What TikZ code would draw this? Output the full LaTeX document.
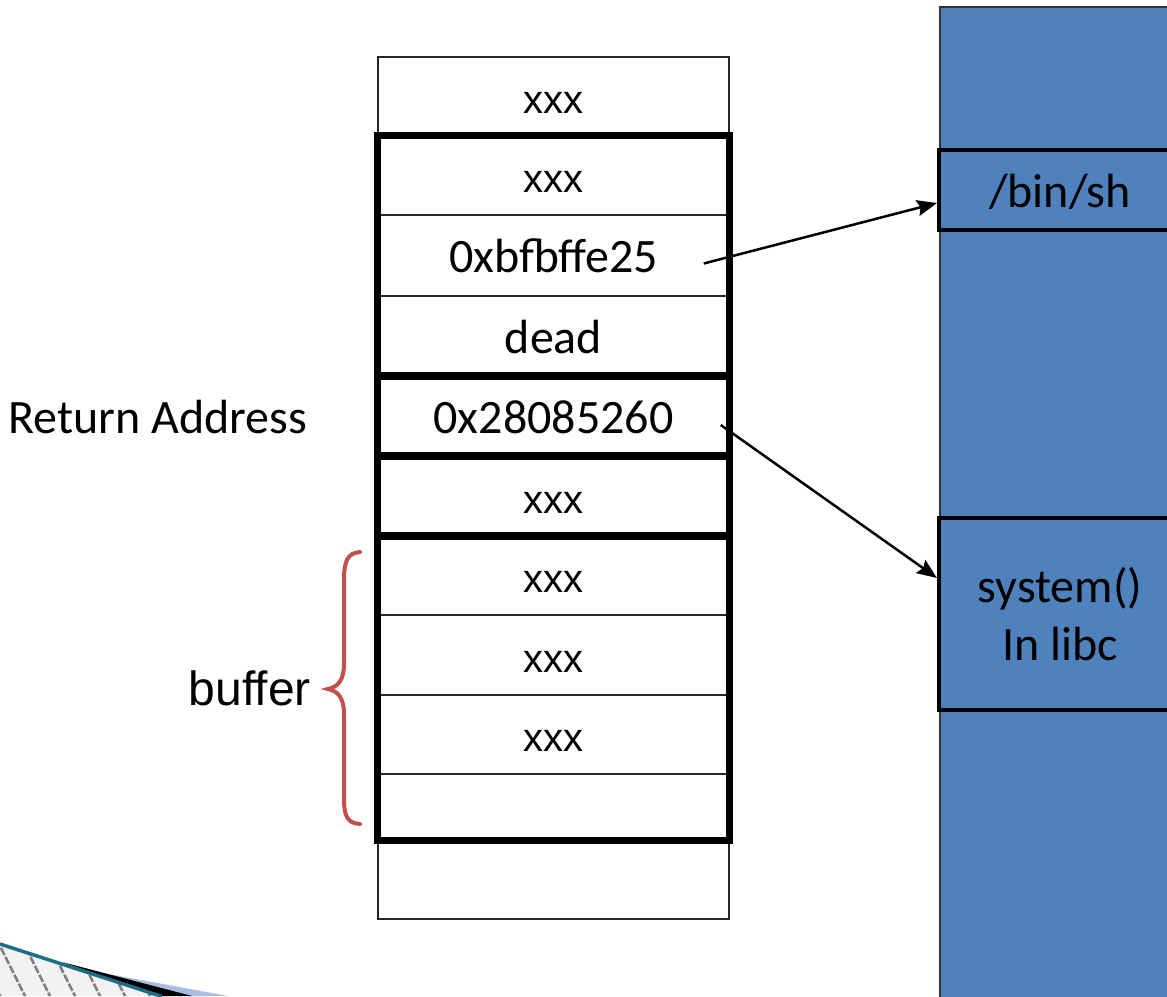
\documentclass[tikz,border=0pt]{standalone}
\usepackage{fontspec}
\setmainfont{Carlito}
\newfontfamily\arialf[Ligatures=NoCommon]{Liberation Sans}
\usetikzlibrary{arrows.meta,calc}
\definecolor{memblue}{HTML}{4F81BD}
\definecolor{bracered}{HTML}{C0504D}
\definecolor{teal2}{HTML}{1B6E85}
\definecolor{lightb}{HTML}{A9BCE3}
\begin{document}
\begin{tikzpicture}[x=1pt,y=-1pt,
  cell/.style={draw=black!85, line width=1.5pt, fill=white, minimum width=351pt,
    inner sep=0pt, text height=42pt, text depth=8pt, font=\fontsize{48}{52}\selectfont},
  xcell/.style={cell, font=\arialf\fontsize{40}{46}\selectfont},
  thickbox/.style={draw=black, line width=7pt},
  membox/.style={draw=black, line width=4pt, fill=memblue, minimum width=242pt,
    inner sep=0pt, font=\fontsize{48}{58}\selectfont, align=center},
  lbl/.style={inner sep=0pt, font=\fontsize{48}{52}\selectfont},
  ptr/.style={draw=black, line width=2.5pt, -{Stealth[length=20pt,width=16pt,inset=3pt]}}
]
\useasboundingbox (0,0) rectangle (1167,996);
\begin{scope}
\clip (0,0) rectangle (1167,996);
\fill[white] (0,0) rectangle (1167,996);

% memory column
\node[draw=black!80, line width=1.5pt, fill=memblue, minimum width=260pt, minimum height=1010pt,
  inner sep=0pt, anchor=north west] (mem) at (939,6) {};
\node[membox, minimum height=80pt, text height=42pt, text depth=8pt] (binsh) at (1060,190) {/bin/sh};
\node[membox, minimum height=192pt] (sys) at (1060,614) {system()\\In libc};

% stack cells
\node[xcell, minimum height=79pt] (c1) at (553.5,96.5) {xxx};
\node[xcell, minimum height=79pt] (c2) at (553.5,175.5) {xxx};
\node[cell, minimum height=81pt] (c3) at (553.5,255.5) {0xbfbffe25};
\node[cell, minimum height=80pt] (c4) at (553.5,336) {dead};
\node[cell, minimum height=80pt] (c5) at (553.5,416) {0x28085260};
\node[xcell, minimum height=80pt] (c6) at (553.5,496) {xxx};
\node[xcell, minimum height=79pt] (c7) at (553.5,575.5) {xxx};
\node[xcell, minimum height=80pt] (c8) at (553.5,655) {xxx};
\node[xcell, minimum height=79pt] (c9) at (553.5,734.5) {xxx};
\node[cell, minimum height=66pt] (c10) at (553.5,807) {};
\node[cell, minimum height=79pt] (c11) at (553.5,879.5) {};

% thick group frames
\draw[thickbox] (c2.north west) rectangle (c4.south east);
\draw[thickbox] (c5.north west) rectangle (c5.south east);
\draw[thickbox] (c6.north west) rectangle (c6.south east);
\draw[thickbox] (c7.north west) rectangle (c10.south east);

% labels
\node[lbl, anchor=base east] (ret) at ($(c5.base west)+(-70,0)$) {Return Address};
\node[lbl, font=\arialf\fontsize{48}{52}\selectfont, anchor=base east] (buf) at (311,705) {buffer};

% brace
\draw[bracered, line width=4pt, line cap=round]
  (360,552) .. controls (347,553) and (344,562) .. (344,580) -- (344,664)
  .. controls (344,680) and (338,687) .. (328,689)
  .. controls (338,691) and (344,698) .. (344,714) -- (344,798)
  .. controls (344,816) and (347,823) .. (360,824);

% pointers
\coordinate (p1) at ($(c3.east)+(-26,8)$);
\coordinate (p2) at ($(c5.east)+(-9,9)$);
\draw[ptr] (p1) -- ($(binsh.west)+(0,13)$);
\draw[ptr] (p2) -- ($(sys.west)+(0,-36)$);

% corner decoration
\begin{scope}
\clip (0,945) -- (162,996) -- (0,996) -- cycle;
\fill[black!5] (0,930) rectangle (170,996);
\foreach \i in {-2,...,7}
  \draw[black!50, line width=2.5pt, dash pattern=on 8pt off 2pt] (\i*25-8,930) -- ++(35,70);
\end{scope}
\fill[lightb] (92,971) -- (228,996) -- (180,996) -- cycle;
\fill[black] (62,962) -- (192,996) -- (158,996) -- cycle;
\draw[teal2, line width=3.5pt] (0,944) -- (162,996.5);
\end{scope}
\end{tikzpicture}
\end{document}
